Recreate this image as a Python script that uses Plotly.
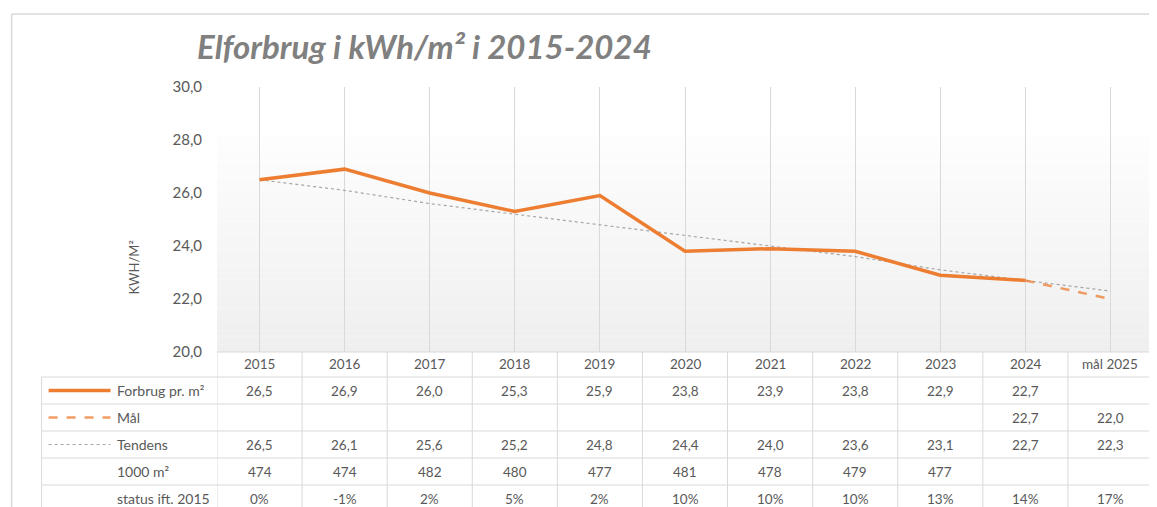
import plotly.graph_objects as go

# ---- data ----
categories = ["2015", "2016", "2017", "2018", "2019", "2020", "2021", "2022", "2023", "2024", "mål 2025"]
forbrug = [26.5, 26.9, 26.0, 25.3, 25.9, 23.8, 23.9, 23.8, 22.9, 22.7, None]
maal = [None, None, None, None, None, None, None, None, None, 22.7, 22.0]
tendens = [26.5, 26.1, 25.6, 25.2, 24.8, 24.4, 24.0, 23.6, 23.1, 22.7, 22.3]
areal_1000m2 = [474, 474, 482, 480, 477, 481, 478, 479, 477, None, None]
status_2015 = ["0%", "-1%", "2%", "5%", "2%", "10%", "10%", "10%", "13%", "14%", "17%"]
row_labels = ["Forbrug pr. m²", "Mål", "Tendens", "1000 m²", "status ift. 2015"]

ORANGE = "#ED7D31"
GRAY_TXT = "#595959"
GRID = "#d9d9d9"
FONT = "Lato"

OFF = 8  # page body margin offset
W, H = 1157 - OFF, 507 - OFF
# reference-pixel plot box
PL, PR, PT, PB = 216.5, 1153, 87, 352
ML = PL - OFF
MR = W - (PR - OFF)
MT = PT - OFF
MB = H - (PB - OFF)
PW = PR - PL
PH = PB - PT


def px_x(px):
    return (px - PL) / PW


def px_y(py):
    return (PB - py) / PH


fig = go.Figure()
xi = list(range(len(categories)))

fig.add_trace(go.Scatter(x=xi, y=tendens, mode="lines", name="Tendens",
                         line=dict(color="#a6a6a6", width=1.2, dash="dot")))
fig.add_trace(go.Scatter(x=xi, y=maal, mode="lines", name="Mål",
                         line=dict(color=ORANGE, width=2.5, dash="dash"), opacity=0.75))
fig.add_trace(go.Scatter(x=xi, y=forbrug, mode="lines", name="Forbrug pr. m²",
                         line=dict(color=ORANGE, width=3.5)))

shapes = []
# gradient background in plot area
n = 30
top = px_y(135)
for k in range(n):
    y0 = top * k / n
    y1 = top * (k + 1) / n
    g = int(239 + (254 - 239) * (k + 0.5) / n)
    shapes.append(dict(type="rect", xref="x domain", yref="y domain", x0=0, x1=1, y0=y0, y1=y1,
                       fillcolor=f"rgb({g},{g},{g})", line=dict(width=0), layer="below"))

# outer chart border (top and left only visible)
shapes.append(dict(type="line", xref="paper", yref="paper", x0=px_x(11), x1=px_x(1170),
                   y0=px_y(14), y1=px_y(14), line=dict(color="#d9d9d9", width=1.5)))
shapes.append(dict(type="line", xref="paper", yref="paper", x0=px_x(11), x1=px_x(11),
                   y0=px_y(14), y1=px_y(520), line=dict(color="#d9d9d9", width=1.5)))

# table lines
row_lines = [377, 404, 431, 458, 485, 512]
for ry in row_lines:
    shapes.append(dict(type="line", xref="paper", yref="paper", x0=px_x(41), x1=1,
                       y0=px_y(ry), y1=px_y(ry), line=dict(color=GRID, width=1)))
shapes.append(dict(type="line", xref="paper", yref="paper", x0=0, x1=1,
                   y0=0, y1=0, line=dict(color=GRID, width=1)))
for i in range(len(categories) + 1):
    shapes.append(dict(type="line", xref="x", yref="paper", x0=i - 0.5, x1=i - 0.5,
                       y0=0, y1=px_y(520), line=dict(color=GRID, width=1)))
shapes.append(dict(type="line", xref="paper", yref="paper", x0=px_x(41), x1=px_x(41),
                   y0=px_y(377), y1=px_y(520), line=dict(color=GRID, width=1)))

# legend keys in table
row_centers = [390.5, 417.5, 444.5, 471.5, 498.5]
shapes.append(dict(type="line", xref="paper", yref="paper", x0=px_x(48), x1=px_x(110),
                   y0=px_y(row_centers[0]), y1=px_y(row_centers[0]), line=dict(color=ORANGE, width=3.5)))
shapes.append(dict(type="line", xref="paper", yref="paper", x0=px_x(48), x1=px_x(110),
                   y0=px_y(row_centers[1]), y1=px_y(row_centers[1]),
                   line=dict(color=ORANGE, width=2.5, dash="dash"), opacity=0.75))
shapes.append(dict(type="line", xref="paper", yref="paper", x0=px_x(48), x1=px_x(110),
                   y0=px_y(row_centers[2]), y1=px_y(row_centers[2]),
                   line=dict(color="#a6a6a6", width=1.2, dash="dot")))

annotations = []


def fmt1(v):
    return "" if v is None else f"{v:.1f}".replace(".", ",")


rows = [
    [fmt1(v) for v in forbrug],
    [fmt1(v) for v in maal],
    [fmt1(v) for v in tendens],
    ["" if v is None else str(v) for v in areal_1000m2],
    status_2015,
]
for r, (label, vals) in enumerate(zip(row_labels, rows)):
    yy = px_y(row_centers[r])
    annotations.append(dict(text=label, xref="paper", yref="paper", x=px_x(114), y=yy,
                            xanchor="left", yanchor="middle", showarrow=False,
                            font=dict(family=FONT, size=14, color=GRAY_TXT)))
    for i, t in enumerate(vals):
        if t:
            annotations.append(dict(text=t, xref="x", yref="paper", x=i, y=yy,
                                    xanchor="center", yanchor="middle", showarrow=False,
                                    font=dict(family=FONT, size=13.5, color=GRAY_TXT)))

# header row (categories)
for i, c in enumerate(categories):
    annotations.append(dict(text=c, xref="x", yref="paper", x=i, y=px_y(364),
                            xanchor="center", yanchor="middle", showarrow=False,
                            font=dict(family=FONT, size=13.5, color=GRAY_TXT)))

# y axis title
annotations.append(dict(text="KWH/M²", xref="paper", yref="paper", x=px_x(133), y=px_y(268),
                        textangle=-90, showarrow=False, xanchor="center", yanchor="middle",
                        font=dict(family=FONT, size=13, color=GRAY_TXT)))

fig.update_layout(
    width=W, height=H,
    margin=dict(l=ML, r=MR, t=MT, b=MB, pad=0),
    paper_bgcolor="white", plot_bgcolor="white",
    separators=",.",
    showlegend=False,
    title=dict(text="Elforbrug i kWh/m² i 2015-2024", xref="container", yref="container",
               x=(197 - OFF) / W, xanchor="left", y=1 - (47 - OFF) / H, yanchor="middle",
               font=dict(family=FONT, size=33, color="#808080", weight="bold", style="italic")),
    shapes=shapes,
    annotations=annotations,
)
fig.update_xaxes(range=[-0.5, len(categories) - 0.5], showgrid=True, tickvals=xi,
                 gridcolor=GRID, gridwidth=1, showline=False, zeroline=False,
                 showticklabels=False, ticks="")
fig.update_yaxes(range=[20, 30], dtick=2, tickformat=".1f", showgrid=False, zeroline=False,
                 showline=False, tickfont=dict(family=FONT, size=15, color=GRAY_TXT),
                 ticklabelstandoff=14)

fig.write_html("out.html")
